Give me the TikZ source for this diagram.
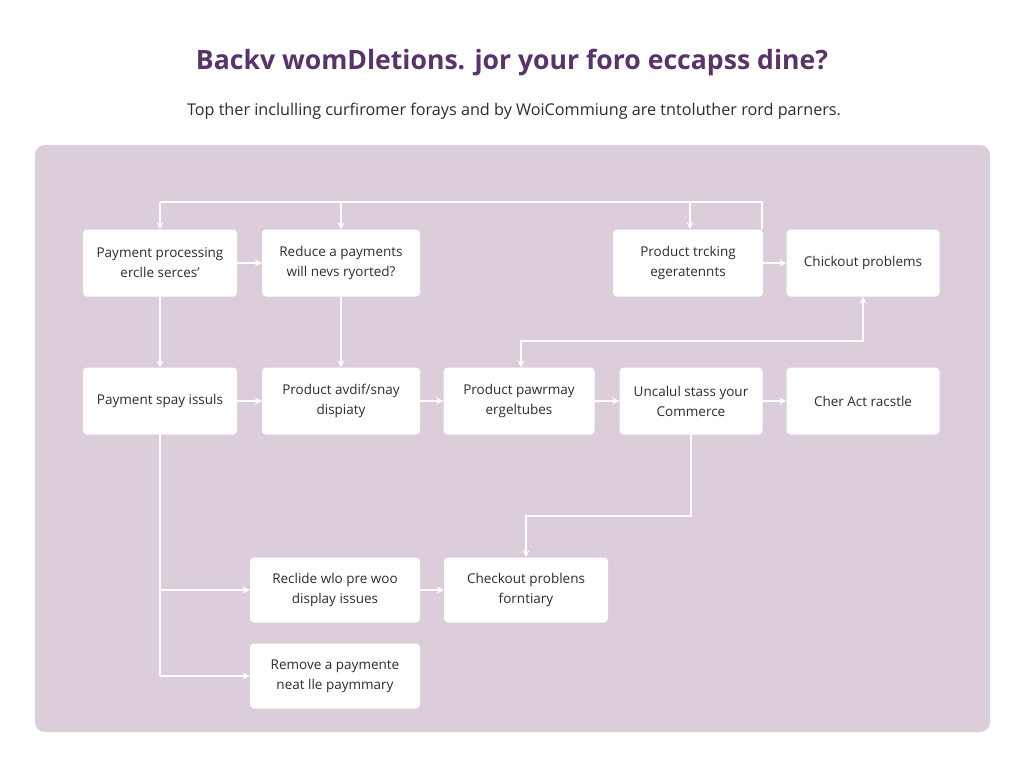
\documentclass[tikz,border=0pt]{standalone}
\usepackage{fontspec}
\setmainfont{Open Sans}
\usetikzlibrary{arrows.meta}
\definecolor{panel}{RGB}{220,205,219}
\definecolor{titlecol}{RGB}{88,52,104}
\definecolor{textcol}{RGB}{45,45,48}
\tikzstyle{box}=[rectangle,rounded corners=4pt,fill=white,minimum width=154pt,minimum height=67pt,inner sep=2pt,align=center,text=textcol,font=\fontsize{13.5}{20}\selectfont]
\tikzstyle{line}=[white,line width=1.6pt]
\tikzstyle{flow}=[line,-{Stealth[length=7pt,width=7pt]}]

\begin{document}
\begin{tikzpicture}[x=1pt,y=-1pt]
\useasboundingbox[fill=white] (0,0) rectangle (1024,768);
\fill[panel,rounded corners=10pt] (35,145) rectangle (990,732);
\node[font=\fontsize{26.6}{30}\selectfont\bfseries,text=titlecol] at (512,63) (title) {Backv womDletions. jor your foro eccapss dine?};
\node[font=\fontsize{16.2}{19}\selectfont,text=textcol] at (514,111) (sub) {Top ther inclulling curfiromer forays and by WoiCommiung are tntoluther rord parners.};
\node[box] at (160, 263) (a) {Payment processing\\erclle serces'};
\node[box, minimum width=158pt] at (341, 263) (b) {Reduce a payments\\will nevs ryorted?};
\node[box, minimum width=150pt] at (688, 263) (c) {Product trcking\\egeratennts};
\node[box, minimum width=153pt] at (863, 263) (d) {Chickout problems};
\node[box] at (160, 401) (e) {Payment spay issuls};
\node[box, minimum width=158pt] at (341, 401) (f) {Product avdif/snay\\dispiaty};
\node[box, minimum width=151pt] at (519, 401) (g) {Product pawrmay\\ergeltubes};
\node[box, minimum width=143pt] at (691, 401) (h) {Uncalul stass your\\Commerce};
\node[box, minimum width=153pt] at (863, 401) (i) {Cher Act racstle};
\node[box, minimum width=170pt, minimum height=65pt] at (335, 590) (j) {Reclide wlo pre woo\\display issues};
\node[box, minimum width=164pt, minimum height=65pt] at (526, 590) (k) {Checkout problens\\forntiary};
\node[box, minimum width=170pt, minimum height=65pt] at (335, 676) (l) {Remove a paymente\\neat lle paymmary};
\coordinate (top) at (0, 202);
\coordinate (mid) at (0, 341);
\coordinate (low) at (0, 516);
\draw[line] ([xshift=-1pt]c.north east) |- (a |- top);
\draw[flow] (a |- top) -- (a);
\draw[flow] (b |- top) -- (b);
\draw[flow] ([xshift=2pt]c.north |- top) -- ([xshift=2pt]c.north);
\draw[flow] (a) -- (b);
\draw[flow] (a) -- (e);
\draw[flow] (b) -- (f);
\draw[flow, double=white, double distance=1.2pt, draw=white, line width=0.8pt] (c) -- (d);
\draw[flow] (e) -- (f);
\draw[flow] (f) -- (g);
\draw[flow] (g) -- (h);
\draw[flow] (h) -- (i);
\draw[line, {Stealth[length=7pt,width=7pt]}-{Stealth[length=7pt,width=7pt]}] ([xshift=2pt]g.north) -- ([xshift=2pt]g.north |- mid) -| (d);
\draw[flow] (h) -- (h |- low) -| (k);
\draw[line] (e) -- (e |- l);
\draw[flow] (e |- j) -- (j);
\draw[flow] (e |- l) -- (l);
\draw[flow] (j) -- (k);
\end{tikzpicture}
\end{document}
